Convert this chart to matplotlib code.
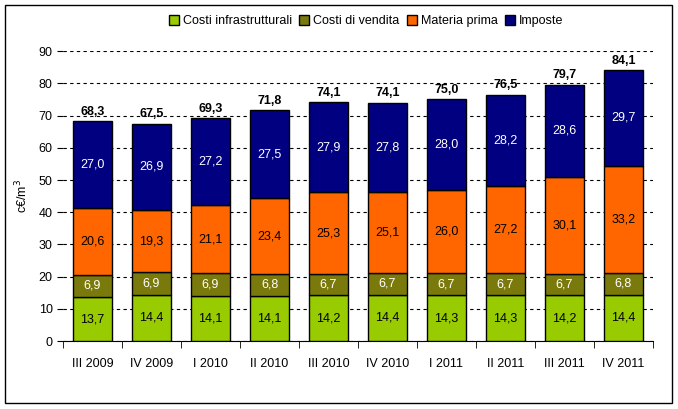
import matplotlib
matplotlib.use('Agg')
import matplotlib.pyplot as plt
from matplotlib.patches import Rectangle
import numpy as np

plt.rcParams['font.family'] = ['Liberation Sans', 'DejaVu Sans']

periods = ['III 2009', 'IV 2009', 'I 2010', 'II 2010', 'III 2010', 'IV 2010',
           'I 2011', 'II 2011', 'III 2011', 'IV 2011']
infra = [13.7, 14.4, 14.1, 14.1, 14.2, 14.4, 14.3, 14.3, 14.2, 14.4]
vendita = [6.9, 6.9, 6.9, 6.8, 6.7, 6.7, 6.7, 6.7, 6.7, 6.8]
materia = [20.6, 19.3, 21.1, 23.4, 25.3, 25.1, 26.0, 27.2, 30.1, 33.2]
imposte = [27.0, 26.9, 27.2, 27.5, 27.9, 27.8, 28.0, 28.2, 28.6, 29.7]
totals = [68.3, 67.5, 69.3, 71.8, 74.1, 74.1, 75.0, 76.5, 79.7, 84.1]

series = [
    ('Costi infrastrutturali', infra, '#99cc00', 'black'),
    ('Costi di vendita', vendita, '#7a7a0c', 'white'),
    ('Materia prima', materia, '#ff6600', 'black'),
    ('Imposte', imposte, '#000080', 'white'),
]


def fmt(v):
    return f'{v:.1f}'.replace('.', ',')


fig = plt.figure(figsize=(6.78, 4.09), dpi=100)
ax = fig.add_axes([0.093, 0.166, 0.870, 0.709])
fig.patches.append(Rectangle((5 / 678, 6 / 409), 667 / 678, 398 / 409, transform=fig.transFigure,
                             fill=False, edgecolor='black', lw=1))

x = np.arange(len(periods))
bottom = np.zeros(len(periods))
handles = []
for name, vals, color, tcol in series:
    bars = ax.bar(x, vals, 0.66, bottom=bottom, color=color, edgecolor='black', lw=1, label=name, zorder=3)
    handles.append(bars)
    for xi, b, v in zip(x, bottom, vals):
        ax.text(xi, b + v / 2, fmt(v), ha='center', va='center', fontsize=9, color=tcol, zorder=4)
    bottom += np.array(vals)

for xi, t in zip(x, totals):
    ax.text(xi, t + 1.0, fmt(t), ha='center', va='bottom', fontsize=9, fontweight='bold', zorder=4)

ax.set_xlim(-0.5, len(periods) - 0.5)
ax.set_ylim(0, 90)
ax.set_yticks(np.arange(0, 91, 10))
ax.set_xticks(x)
ax.set_xticklabels(periods, fontsize=9)
ax.set_xticks(np.arange(-0.5, len(periods), 1), minor=True)
ax.tick_params(axis='x', which='major', length=0, pad=12)
ax.tick_params(axis='x', which='minor', length=5, direction='out', color='black')
ax.tick_params(axis='y', length=4, labelsize=9)
ax.grid(axis='y', color='black', ls=(0, (3, 3)), lw=0.8, zorder=0)
for s in ['top', 'right', 'left']:
    ax.spines[s].set_visible(False)
ax.spines['bottom'].set_color('black')
ax.set_ylabel('c€/m$^3$', fontsize=9, labelpad=6)

fig.legend(handles=handles, loc='upper center', bbox_to_anchor=(0.54, 0.99), ncol=4, frameon=False,
           fontsize=9, handlelength=0.8, handleheight=0.8, handletextpad=0.3, columnspacing=0.6)

fig.savefig('out.png', dpi=100, facecolor='white')
